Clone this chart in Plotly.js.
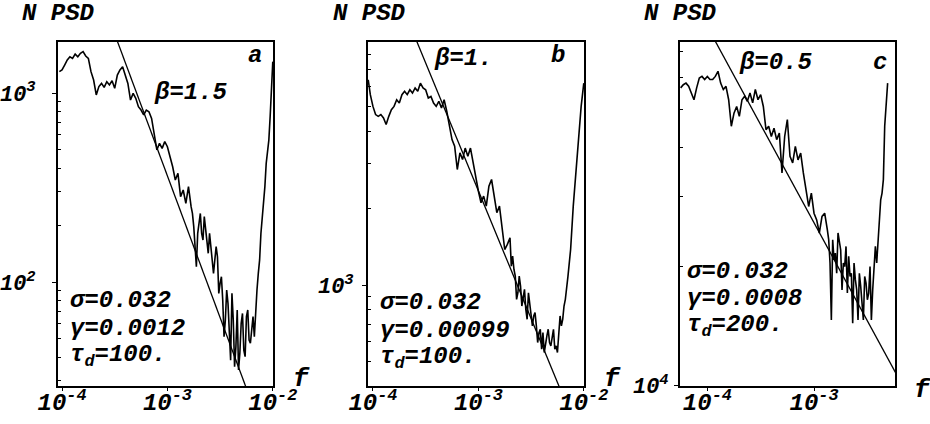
<!DOCTYPE html>
<html><head><meta charset="utf-8">
<script src="https://cdn.plot.ly/plotly-3.0.1.min.js"></script>
<style>body{margin:0;background:#fff}</style>
</head><body>
<div id="chart" style="width:930px;height:424px"></div>
<script>
// ---- data (log10 values) ----
const logF_a = [-4.025,-4.0,-3.975,-3.95,-3.925,-3.9,-3.875,-3.85,-3.825,-3.8,-3.775,-3.75,-3.725,-3.7,-3.675,-3.65,-3.625,-3.6,-3.575,-3.55,-3.525,-3.5,-3.475,-3.45,-3.425,-3.4,-3.375,-3.35,-3.325,-3.3,-3.275,-3.25,-3.225,-3.2,-3.175,-3.15,-3.125,-3.1,-3.075,-3.05,-3.025,-3.0,-2.975,-2.95,-2.925,-2.9,-2.875,-2.85,-2.825,-2.8,-2.775,-2.7625,-2.75,-2.7375,-2.725,-2.7125,-2.7,-2.6875,-2.675,-2.6625,-2.65,-2.6375,-2.625,-2.6125,-2.6,-2.5875,-2.575,-2.5625,-2.55,-2.5375,-2.525,-2.5125,-2.5,-2.4875,-2.475,-2.4625,-2.45,-2.4375,-2.425,-2.4125,-2.4,-2.3875,-2.375,-2.3625,-2.35,-2.3375,-2.325,-2.3125,-2.3,-2.2875,-2.275,-2.2625,-2.25,-2.2375,-2.225,-2.2125,-2.2,-2.1875,-2.175,-2.1625,-2.15,-2.1375,-2.125,-2.1125,-2.1,-2.0875,-2.075,-2.0625,-2.05,-2.0375,-2.025,-2.0125,-2.0];
const logPSD_a = [3.113,3.122,3.148,3.175,3.192,3.183,3.206,3.192,3.210,3.219,3.196,3.183,3.113,3.069,2.990,3.034,3.051,3.030,3.060,3.043,3.065,3.025,3.095,3.122,3.139,3.095,3.051,2.963,2.998,2.972,2.928,2.910,2.884,2.910,2.901,2.866,2.787,2.699,2.734,2.707,2.743,2.716,2.663,2.610,2.540,2.575,2.452,2.487,2.416,2.505,2.399,2.363,2.293,2.152,2.081,2.258,2.328,2.363,2.258,2.222,2.346,2.275,2.205,2.152,2.258,2.187,2.152,2.046,2.117,2.187,2.134,1.940,1.993,2.028,1.905,1.711,1.799,1.958,1.887,1.764,1.587,1.940,1.799,1.552,1.658,1.852,1.535,1.623,1.781,1.834,1.640,1.605,1.817,1.852,1.693,1.676,1.746,1.817,1.711,1.852,1.958,2.046,2.117,2.258,2.346,2.399,2.505,2.628,2.681,2.751,2.875,2.998,3.166];

const logF_b = [-4.045,-4.025,-4.0,-3.975,-3.95,-3.925,-3.9,-3.875,-3.85,-3.825,-3.8,-3.775,-3.75,-3.725,-3.7,-3.675,-3.65,-3.625,-3.6,-3.575,-3.55,-3.525,-3.5,-3.475,-3.45,-3.425,-3.4,-3.375,-3.35,-3.325,-3.3,-3.275,-3.25,-3.225,-3.2,-3.175,-3.15,-3.125,-3.1,-3.075,-3.05,-3.025,-3.0,-2.975,-2.95,-2.925,-2.9,-2.875,-2.85,-2.825,-2.8,-2.775,-2.75,-2.725,-2.7,-2.6875,-2.675,-2.6625,-2.65,-2.6375,-2.625,-2.6125,-2.6,-2.5875,-2.575,-2.5625,-2.55,-2.5375,-2.525,-2.5125,-2.5,-2.4875,-2.475,-2.4625,-2.45,-2.4375,-2.425,-2.4125,-2.4,-2.3875,-2.375,-2.3625,-2.35,-2.3375,-2.325,-2.3125,-2.3,-2.2875,-2.275,-2.2625,-2.25,-2.2375,-2.225,-2.2125,-2.2,-2.1875,-2.175,-2.15,-2.125,-2.1,-2.075,-2.05,-2.025,-2.0];
const logPSD_b = [3.803,3.745,3.699,3.667,3.660,3.667,3.654,3.628,3.660,3.686,3.699,3.725,3.712,3.745,3.758,3.745,3.764,3.751,3.771,3.758,3.790,3.771,3.764,3.732,3.738,3.712,3.699,3.719,3.693,3.725,3.680,3.621,3.569,3.543,3.452,3.517,3.491,3.536,3.504,3.536,3.478,3.426,3.368,3.322,3.348,3.309,3.387,3.413,3.348,3.283,3.309,3.217,3.139,3.159,3.185,3.074,3.113,3.061,3.035,2.944,2.970,3.035,2.996,2.918,2.957,2.983,2.905,2.866,2.970,2.931,2.892,2.840,2.879,2.892,2.840,2.775,2.814,2.827,2.749,2.814,2.736,2.775,2.801,2.827,2.775,2.762,2.807,2.827,2.749,2.762,2.736,2.814,2.879,2.840,2.866,2.918,2.944,3.035,3.139,3.309,3.439,3.595,3.699,3.790];

const logF_c = [-4.25,-4.225,-4.2,-4.175,-4.15,-4.125,-4.1,-4.075,-4.05,-4.025,-4.0,-3.975,-3.95,-3.925,-3.9,-3.875,-3.85,-3.825,-3.8,-3.775,-3.75,-3.725,-3.7,-3.675,-3.65,-3.625,-3.6,-3.575,-3.55,-3.525,-3.5,-3.475,-3.45,-3.425,-3.4,-3.375,-3.35,-3.325,-3.3,-3.275,-3.25,-3.225,-3.2,-3.175,-3.15,-3.125,-3.1,-3.075,-3.05,-3.025,-3.0,-2.975,-2.95,-2.925,-2.9,-2.875,-2.8625,-2.85,-2.8375,-2.825,-2.8125,-2.8,-2.7875,-2.775,-2.7625,-2.75,-2.7375,-2.725,-2.7125,-2.7,-2.6875,-2.675,-2.6625,-2.65,-2.6375,-2.625,-2.6125,-2.6,-2.5875,-2.575,-2.5625,-2.55,-2.5375,-2.525,-2.5125,-2.5,-2.4875,-2.475,-2.4625,-2.45,-2.4375,-2.425,-2.4125,-2.4,-2.3875,-2.375,-2.3625,-2.35,-2.3375,-2.325,-2.31];
const logPSD_c = [4.753,4.761,4.765,4.757,4.740,4.723,4.753,4.778,4.782,4.774,4.782,4.774,4.774,4.782,4.795,4.765,4.749,4.757,4.723,4.656,4.689,4.706,4.681,4.723,4.732,4.719,4.740,4.715,4.749,4.723,4.736,4.706,4.647,4.656,4.630,4.651,4.622,4.639,4.538,4.630,4.673,4.580,4.563,4.605,4.571,4.588,4.538,4.495,4.453,4.487,4.436,4.419,4.386,4.428,4.436,4.394,4.369,4.310,4.166,4.369,4.318,4.335,4.284,4.386,4.360,4.343,4.242,4.310,4.301,4.352,4.234,4.327,4.276,4.284,4.158,4.310,4.268,4.242,4.166,4.284,4.251,4.200,4.166,4.276,4.259,4.217,4.234,4.301,4.166,4.242,4.293,4.352,4.310,4.369,4.419,4.470,4.487,4.521,4.656,4.706,4.765];

// fitted power laws (endpoints, log10)
const fitLogF_a = [-3.55, -2.2];  const fitLogPSD_a = [3.387, 1.362];
const fitLogF_b = [-3.65, -2.2];  const fitLogPSD_b = [4.019, 2.569];
const fitLogF_c = [-4.0, -2.2];   const fitLogPSD_c = [4.908, 4.015];

// axes
const xTickVals = [1e-4, 1e-3, 1e-2];
const xTickText = ['10<sup>-4</sup>', '10<sup>-3</sup>', '10<sup>-2</sup>'];
const yTickVals_a = [100, 1000];  const yTickText_a = ['10<sup>2</sup>', '10<sup>3</sup>'];
const yTickVals_b = [1000];       const yTickText_b = ['10<sup>3</sup>'];
const yTickVals_c = [10000];      const yTickText_c = ['10<sup>4</sup>'];
const yMinor_a = [30,40,50,60,70,80,90,200,300,400,500,600,700,800,900];
const yMinor_b = [500,600,700,800,900,2000,3000,4000,5000,6000,7000,8000];
const yMinor_c = [20000,30000,40000,50000,60000,70000];

// texts
const yAxisLabel = 'N PSD';
const xAxisLabel = 'f';
const panelLetters = ['a', 'b', 'c'];
const betaLabels = ['β=1.5', 'β=1.', 'β=0.5'];
const sigmaLabels = ['σ=0.032', 'σ=0.032', 'σ=0.032'];
const gammaLabels = ['γ=0.0012', 'γ=0.00099', 'γ=0.0008'];
const tauLabels = ['τ<sub>d</sub>=100.', 'τ<sub>d</sub>=100.', 'τ<sub>d</sub>=200.'];

// ---- build ----
const W = 930, H = 424;
const pow10 = a => a.map(v => Math.pow(10, v));
const FONT = 'Liberation Mono, Courier New, monospace';
const font = (size) => ({family: FONT, size: size, color: '#000', weight: 'bold', style: 'italic'});

function line(lf, lp, xa, ya, w) {
  return {x: pow10(lf), y: pow10(lp), xaxis: xa, yaxis: ya, type: 'scatter', mode: 'lines',
          line: {color: '#000', width: w}, hoverinfo: 'skip'};
}
const traces = [
  line(logF_a, logPSD_a, 'x', 'y', 1.6),
  line(fitLogF_a, fitLogPSD_a, 'x', 'y', 1.3),
  line(logF_b, logPSD_b, 'x2', 'y2', 1.6),
  line(fitLogF_b, fitLogPSD_b, 'x2', 'y2', 1.3),
  line(logF_c, logPSD_c, 'x3', 'y3', 1.6),
  line(fitLogF_c, fitLogPSD_c, 'x3', 'y3', 1.3)
];

// panel boxes in pixels
const boxes = [[58, 273], [368, 584], [680, 895]];
const boxTop = 42, boxBottom = 386;
const xRanges = [[-4.038, -1.998], [-4.047, -1.998], [-4.256, -2.241]];
const yRanges = [[1.45, 3.27], [2.605, 3.951], [3.999, 4.869]];
const yTV = [yTickVals_a, yTickVals_b, yTickVals_c];
const yTT = [yTickText_a, yTickText_b, yTickText_c];
const yMin = [yMinor_a, yMinor_b, yMinor_c];
const yStand = [12, 4, 1];

const layout = {width: W, height: H, margin: {l: 0, r: 0, t: 0, b: 0},
  paper_bgcolor: '#fff', plot_bgcolor: '#fff', showlegend: false, annotations: []};

boxes.forEach((b, i) => {
  const s = i === 0 ? '' : String(i + 1);
  layout['xaxis' + s] = {type: 'log', domain: [b[0] / W, b[1] / W], range: xRanges[i], autorange: false,
    anchor: 'y' + s, showgrid: false, zeroline: false, showline: true, mirror: true,
    linecolor: '#000', linewidth: 2, ticks: 'outside', ticklen: 3, tickwidth: 1, tickcolor: '#000',
    tickmode: 'array', tickvals: xTickVals, ticktext: xTickText, tickfont: font(24), ticklabelstandoff: -10};
  layout['yaxis' + s] = {type: 'log', domain: [1 - boxBottom / H, 1 - boxTop / H], range: yRanges[i], autorange: false,
    anchor: 'x' + s, showgrid: false, zeroline: false, showline: true, mirror: true,
    linecolor: '#000', linewidth: 2, ticks: 'outside', ticklen: 4, tickwidth: 1, tickcolor: '#000',
    tickmode: 'array', tickvals: yTV[i], ticktext: yTT[i], tickfont: font(22), ticklabelstandoff: yStand[i],
    minor: {tickmode: 'array', tickvals: yMin[i], ticks: 'inside', ticklen: 3, tickwidth: 1, tickcolor: '#000', showgrid: false}};
});

function ann(text, x, y, size, xanchor) {
  layout.annotations.push({text: text, x: x / W, y: 1 - y / H, xref: 'paper', yref: 'paper',
    xanchor: xanchor || 'left', yanchor: 'middle', showarrow: false, font: font(size)});
}
const nPsdX = [20, 331, 642];
const fX = [301, 612, 922], fY = [379, 379, 390];
const letterXY = [[255, 56], [558, 55], [880, 62]];
const betaXY = [[152, 92], [432, 58], [737, 62]];
const blockX = [68, 378, 685];
const blockY = [[300, 328, 356], [302, 330, 358], [271, 298, 326]];
for (let i = 0; i < 3; i++) {
  ann(yAxisLabel, nPsdX[i], 13, 24);
  ann(xAxisLabel, fX[i], fY[i], 26, 'center');
  ann(panelLetters[i], letterXY[i][0], letterXY[i][1], 24, 'center');
  ann(betaLabels[i], betaXY[i][0], betaXY[i][1], 24);
  ann(sigmaLabels[i], blockX[i], blockY[i][0], 24);
  ann(gammaLabels[i], blockX[i], blockY[i][1], 24);
  ann(tauLabels[i], blockX[i], blockY[i][2], 24);
}

Plotly.newPlot('chart', traces, layout, {staticPlot: true, displayModeBar: false});
</script>
</body></html>
